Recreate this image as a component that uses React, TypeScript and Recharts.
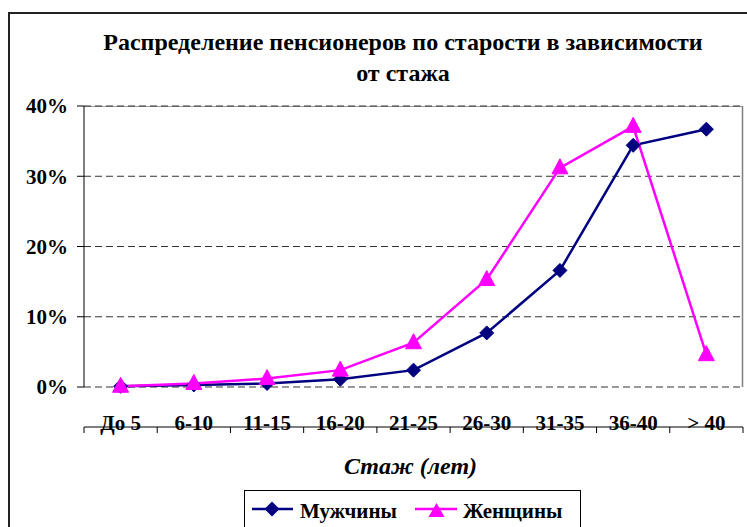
import React from 'react';
import { LineChart, Line, XAxis, YAxis, CartesianGrid } from 'recharts';

const categories = ['До 5', '6-10', '11-15', '16-20', '21-25', '26-30', '31-35', '36-40', '> 40'];
const menValues = [0.1, 0.3, 0.5, 1.1, 2.4, 7.7, 16.6, 34.4, 36.7];
const womenValues = [0.1, 0.5, 1.2, 2.4, 6.3, 15.3, 31.2, 37.1, 4.6];
const yTicks = [0, 10, 20, 30, 40];
const boundaryTicks = [-0.5, 0.5, 1.5, 2.5, 3.5, 4.5, 5.5, 6.5, 7.5, 8.5];
const centerTicks = [0, 1, 2, 3, 4, 5, 6, 7, 8];

const data = categories.map((name, i) => ({ x: i, name, men: menValues[i], women: womenValues[i] }));

const FONT = '"Liberation Serif", "Times New Roman", serif';
const NAVY = '#000080';
const MAGENTA = '#FF00FF';

const Diamond = (props: any) => {
  const { cx, cy, key } = props;
  if (cx == null || cy == null) return <g key={key} />;
  const r = 7;
  return (
    <path key={key} d={`M${cx},${cy - r} L${cx + r},${cy} L${cx},${cy + r} L${cx - r},${cy} Z`} fill={NAVY} stroke={NAVY} strokeWidth={1} />
  );
};

const Triangle = (props: any) => {
  const { cx, cy, key } = props;
  if (cx == null || cy == null) return <g key={key} />;
  return (
    <path key={key} d={`M${cx},${cy - 9} L${cx + 8},${cy + 6} L${cx - 8},${cy + 6} Z`} fill={MAGENTA} stroke={MAGENTA} strokeWidth={1} />
  );
};

export default function App() {
  return (
    <div style={{ position: 'absolute', left: 0, top: 0, width: 747, height: 527, background: '#fff', overflow: 'hidden' }}>
      <svg width={747} height={527} style={{ position: 'absolute', left: 0, top: 0 }}>
        <rect x={9} y={13} width={780} height={560} fill="#fff" stroke="#222" strokeWidth={2} />
        <text x={403} y={50} textAnchor="middle" fontFamily={FONT} fontWeight="bold" fontSize={24} fill="#000">
          Распределение пенсионеров по старости в зависимости
        </text>
        <text x={403} y={81} textAnchor="middle" fontFamily={FONT} fontWeight="bold" fontSize={24} fill="#000">
          от стажа
        </text>
        <line x1={84} y1={106.5} x2={743} y2={106.5} stroke="#999" strokeWidth={1} />
        <line x1={742.5} y1={106} x2={742.5} y2={387} stroke="#808080" strokeWidth={1.5} />
        <text x={410.5} y={474} textAnchor="middle" fontFamily={FONT} fontWeight="bold" fontStyle="italic" fontSize={24} fill="#000">
          Стаж (лет)
        </text>
        <rect x={244.5} y={490.5} width={336} height={60} fill="#fff" stroke="#000" strokeWidth={1} />
        <line x1={252} y1={509} x2={293} y2={509} stroke={NAVY} strokeWidth={2.5} />
        <path d="M272,501.5 L279.5,509 L272,516.5 L264.5,509 Z" fill={NAVY} />
        <text x={300} y={518} fontFamily={FONT} fontWeight="bold" fontSize={21} fill="#000">Мужчины</text>
        <line x1={415} y1={509} x2={457} y2={509} stroke={MAGENTA} strokeWidth={2.5} />
        <path d="M436.5,503 L444.5,517 L428.5,517 Z" fill={MAGENTA} />
        <text x={463} y={518} fontFamily={FONT} fontWeight="bold" fontSize={21} fill="#000">Женщины</text>
      </svg>
      <div style={{ position: 'absolute', left: 0, top: 0 }}>
        <LineChart width={747} height={527} data={data} margin={{ top: 106, right: 4, bottom: 99, left: 0 }}>
          <CartesianGrid horizontal={true} vertical={false} stroke="#333" strokeDasharray="7 4" xAxisId="main" />
          <XAxis
            xAxisId="main"
            dataKey="x"
            type="number"
            domain={[-0.5, 8.5]}
            allowDataOverflow
            ticks={boundaryTicks}
            interval={0}
            height={1}
            stroke="#000"
            tickSize={6}
            tickLine={{ stroke: '#000' }}
            axisLine={{ stroke: '#000', strokeWidth: 1 }}
            tick={() => <g />}
          />
          <XAxis
            xAxisId="lab"
            dataKey="x"
            type="number"
            domain={[-0.5, 8.5]}
            allowDataOverflow
            ticks={centerTicks}
            interval={0}
            height={40}
            axisLine={false}
            tickLine={false}
            tickMargin={22}
            tickFormatter={(v: number) => categories[v]}
            tick={{ fontFamily: FONT, fontWeight: 'bold', fontSize: 21, fill: '#000' }}
          />
          <YAxis
            domain={[0, 40]}
            ticks={yTicks}
            interval={0}
            width={84}
            tickSize={7}
            tickMargin={9}
            stroke="#000"
            axisLine={{ stroke: '#000' }}
            tickLine={{ stroke: '#000' }}
            tickFormatter={(v: number) => `${v}%`}
            tick={{ fontFamily: FONT, fontWeight: 'bold', fontSize: 21, fill: '#000' }}
          />
          <Line xAxisId="main" dataKey="men" stroke={NAVY} strokeWidth={2.5} dot={Diamond} isAnimationActive={false} />
          <Line xAxisId="lab" dataKey="women" stroke={MAGENTA} strokeWidth={2.5} dot={Triangle} isAnimationActive={false} />
        </LineChart>
      </div>
    </div>
  );
}
